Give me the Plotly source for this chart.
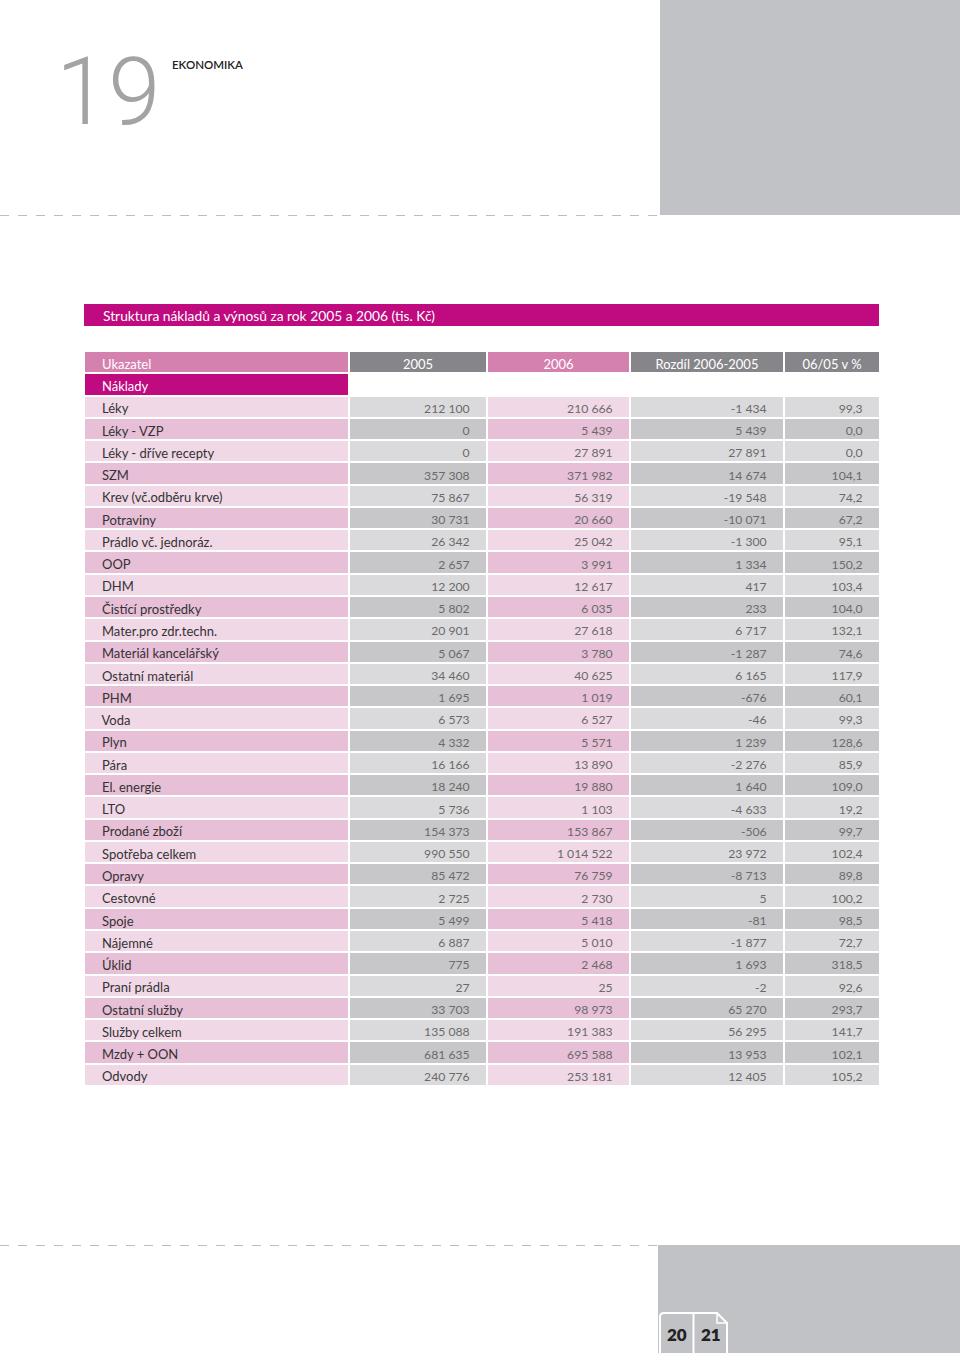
import plotly.graph_objects as go

labels = ["Léky", "Léky - VZP", "Léky - dříve recepty", "SZM", "Krev (vč.odběru krve)",
          "Potraviny", "Prádlo vč. jednoráz.", "OOP", "DHM", "Čistící prostředky",
          "Mater.pro zdr.techn.", "Materiál kancelářský", "Ostatní materiál", "PHM", "Voda",
          "Plyn", "Pára", "El. energie", "LTO", "Prodané zboží", "Spotřeba celkem",
          "Opravy", "Cestovné", "Spoje", "Nájemné", "Úklid", "Praní prádla",
          "Ostatní služby", "Služby celkem", "Mzdy + OON", "Odvody"]
v2005 = [212100, 0, 0, 357308, 75867, 30731, 26342, 2657, 12200, 5802, 20901, 5067, 34460,
         1695, 6573, 4332, 16166, 18240, 5736, 154373, 990550, 85472, 2725, 5499, 6887,
         775, 27, 33703, 135088, 681635, 240776]
v2006 = [210666, 5439, 27891, 371982, 56319, 20660, 25042, 3991, 12617, 6035, 27618, 3780,
         40625, 1019, 6527, 5571, 13890, 19880, 1103, 153867, 1014522, 76759, 2730, 5418,
         5010, 2468, 25, 98973, 191383, 695588, 253181]
diff = [-1434, 5439, 27891, 14674, -19548, -10071, -1300, 1334, 417, 233, 6717, -1287, 6165,
        -676, -46, 1239, -2276, 1640, -4633, -506, 23972, -8713, 5, -81, -1877, 1693, -2,
        65270, 56295, 13953, 12405]
pct = [99.3, 0.0, 0.0, 104.1, 74.2, 67.2, 95.1, 150.2, 103.4, 104.0, 132.1, 74.6, 117.9,
       60.1, 99.3, 128.6, 85.9, 109.0, 19.2, 99.7, 102.4, 89.8, 100.2, 98.5, 72.7, 318.5,
       92.6, 293.7, 141.7, 102.1, 105.2]
headers = ["Ukazatel", "2005", "2006", "Rozdíl 2006-2005", "06/05 v %"]
section = "Náklady"
title = "Struktura nákladů a výnosů za rok 2005 a 2006 (tis. Kč)"
chapter = "19"
chapter_name = "EKONOMIKA"
pages = ["20", "21"]

NB = "\u00a0"


def fmt_int(v):
    s = f"{abs(v):,}".replace(",", " ")
    return ("-" if v < 0 else "") + s


def fmt_pct(v):
    return f"{v:.1f}".replace(".", ",")


col0 = [NB * 3 + section] + [NB * 3 + l for l in labels]
col1 = [""] + [fmt_int(v) + NB * 3 for v in v2005]
col2 = [""] + [fmt_int(v) + NB * 3 for v in v2006]
col3 = [""] + [fmt_int(v) + NB * 3 for v in diff]
col4 = [""] + [fmt_pct(v) + NB * 3 for v in pct]

PINK_L, PINK_D = "#F1D8E7", "#E7BFD7"
GREY_L, GREY_D = "#DADADC", "#C7C7CA"
MAG = "#BF0A80"

n = len(labels)
pinkcol = [PINK_L if i % 2 == 0 else PINK_D for i in range(n)]
greycol = [GREY_L if i % 2 == 0 else GREY_D for i in range(n)]
fills = [[MAG] + pinkcol, ["white"] + greycol, ["white"] + pinkcol,
         ["white"] + greycol, ["white"] + greycol]

W, H = 960, 1353
ROW = 22.27
top = 351

fig = go.Figure()
fig.add_trace(go.Table(
    domain=dict(x=[84 / W, 880 / W], y=[0.05, 1 - top / H]),
    columnwidth=[265, 138, 143, 154, 96],
    header=dict(
        values=[NB * 3 + headers[0]] + headers[1:],
        fill_color=["#D581B0", "#86858A", "#D581B0", "#86858A", "#86858A"],
        line=dict(color="white", width=2),
        align=["left", "center", "center", "center", "center"],
        font=dict(family="Lato", size=13, color="white"),
        height=ROW,
    ),
    cells=dict(
        values=[col0, col1, col2, col3, col4],
        fill_color=fills,
        line=dict(color="white", width=2),
        align=["left", "right", "right", "right", "right"],
        font=dict(family="Lato", size=[13, 12.2, 12.2, 12.2, 12.2],
                  color=[["white"] + ["#333333"] * n] + [["#6a6a6a"] * (n + 1)] * 4),
        height=ROW,
    ),
))

# invisible pixel axes for decorations
fig.add_trace(go.Scatter(x=[0, W], y=[0, H], mode="markers", marker=dict(opacity=0),
                         hoverinfo="skip", showlegend=False))

shapes = [
    dict(type="rect", x0=660, x1=960, y0=0, y1=215, fillcolor="#C1C2C6", line_width=0),
    dict(type="rect", x0=658, x1=960, y0=1245, y1=1353, fillcolor="#C1C2C6", line_width=0),
    dict(type="line", x0=0, x1=660, y0=215.5, y1=215.5,
         line=dict(color="#BDBDBD", width=1.2, dash="dash")),
    dict(type="line", x0=0, x1=658, y0=1245.5, y1=1245.5,
         line=dict(color="#BDBDBD", width=1.2, dash="dash")),
    dict(type="rect", x0=84, x1=879, y0=304, y1=326, fillcolor=MAG, line_width=0),
    dict(type="path",
         path="M 660 1353 L 660 1317 Q 660 1313 664 1313 L 717 1313 L 727 1323 L 727 1353",
         line=dict(color="white", width=2)),
    dict(type="path", path="M 717 1313 L 717 1323 L 727 1323",
         line=dict(color="white", width=1.5)),
    dict(type="line", x0=693.5, x1=693.5, y0=1313, y1=1353, line=dict(color="white", width=2)),
]
for s in shapes:
    s.setdefault("xref", "x")
    s.setdefault("yref", "y")
    s["layer"] = "below"
fig.update_layout(shapes=shapes)

ann = [
    dict(x=54, y=92, text=chapter, xanchor="left", yanchor="middle",
         font=dict(family="Roboto", size=94, color="#A3A3A3", weight=300)),
    dict(x=170, y=64, text=chapter_name, xanchor="left", yanchor="middle",
         font=dict(family="Lato", size=11.5, color="#222222", weight=600)),
    dict(x=101, y=315.5, text=title, xanchor="left", yanchor="middle",
         font=dict(family="Lato", size=13.8, color="white")),
    dict(x=677, y=1334, text=pages[0], xanchor="center", yanchor="middle",
         font=dict(family="Lato", size=17, color="#222222", weight=800)),
    dict(x=710.5, y=1334, text=pages[1], xanchor="center", yanchor="middle",
         font=dict(family="Lato", size=17, color="#222222", weight=800)),
]
for a in ann:
    a.update(xref="x", yref="y", showarrow=False)
fig.update_layout(annotations=ann)

fig.update_layout(
    width=W, height=H, margin=dict(l=0, r=0, t=0, b=0),
    paper_bgcolor="white", plot_bgcolor="rgba(0,0,0,0)",
    xaxis=dict(range=[0, W], visible=False, fixedrange=True),
    yaxis=dict(range=[H, 0], visible=False, fixedrange=True),
    showlegend=False,
)

fig.write_html("out.html", config={"displayModeBar": False})

# remove default page margin so the figure sits at the window origin
with open("out.html", encoding="utf-8") as f:
    html = f.read()
html = html.replace("<head>", "<head><style>html,body{margin:0;padding:0;overflow:hidden;}</style>", 1)
with open("out.html", "w", encoding="utf-8") as f:
    f.write(html)
